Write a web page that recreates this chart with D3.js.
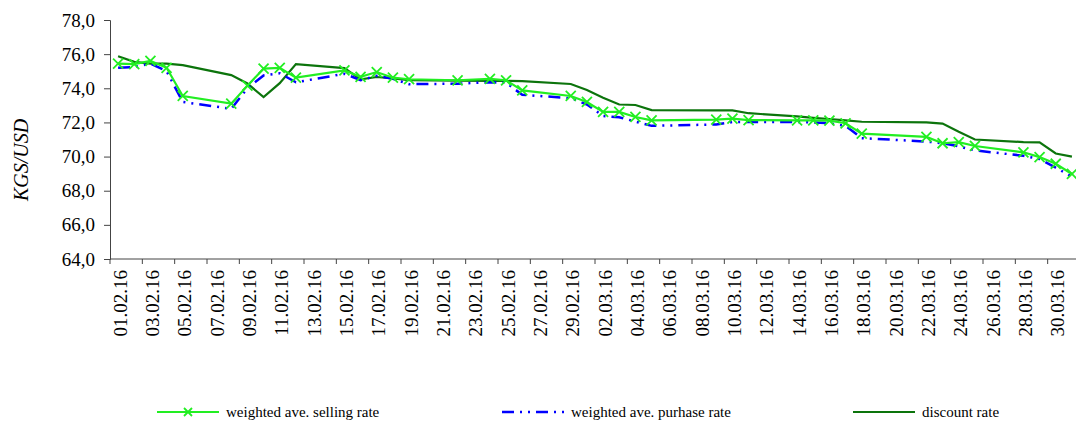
<!DOCTYPE html>
<html>
<head>
<meta charset="utf-8">
<script src="https://cdn.jsdelivr.net/npm/d3@7"></script>
<style>
  html, body { margin: 0; padding: 0; background: #fff; }
  svg { display: block; }
</style>
</head>
<body>
<svg id="chart" width="1076" height="424"></svg>
<script>
// ---- data ----
const categories = ["01.02.16","02.02.16","03.02.16","04.02.16","05.02.16","06.02.16","07.02.16","08.02.16","09.02.16","10.02.16",
  "11.02.16","12.02.16","13.02.16","14.02.16","15.02.16","16.02.16","17.02.16","18.02.16","19.02.16","20.02.16",
  "21.02.16","22.02.16","23.02.16","24.02.16","25.02.16","26.02.16","27.02.16","28.02.16","29.02.16","01.03.16",
  "02.03.16","03.03.16","04.03.16","05.03.16","06.03.16","07.03.16","08.03.16","09.03.16","10.03.16","11.03.16",
  "12.03.16","13.03.16","14.03.16","15.03.16","16.03.16","17.03.16","18.03.16","19.03.16","20.03.16","21.03.16",
  "22.03.16","23.03.16","24.03.16","25.03.16","26.03.16","27.03.16","28.03.16","29.03.16","30.03.16","31.03.16"];

// trading days (dates with quotes)
const tradeDays = ["01.02.16","02.02.16","03.02.16","04.02.16","05.02.16","08.02.16","09.02.16","10.02.16","11.02.16","12.02.16",
  "15.02.16","16.02.16","17.02.16","18.02.16","19.02.16","22.02.16","24.02.16","25.02.16","26.02.16","29.02.16",
  "01.03.16","02.03.16","03.03.16","04.03.16","05.03.16","09.03.16","10.03.16","11.03.16","14.03.16","15.03.16",
  "16.03.16","17.03.16","18.03.16","22.03.16","23.03.16","24.03.16","25.03.16","28.03.16","29.03.16","30.03.16","31.03.16"];

const sellingRate = [75.45,75.42,75.60,75.20,73.55,73.10,74.15,75.15,75.20,74.62,
  75.05,74.67,74.95,74.62,74.53,74.47,74.55,74.47,73.88,73.55,
  73.20,72.62,72.62,72.32,72.12,72.16,72.22,72.14,72.12,72.12,
  72.10,71.95,71.34,71.15,70.78,70.85,70.62,70.25,69.97,69.58,68.98];

const purchaseRate = [75.20,75.25,75.45,75.00,73.20,72.80,74.00,74.75,74.88,74.35,
  74.85,74.48,74.73,74.55,74.24,74.27,74.36,74.32,73.62,73.42,
  73.05,72.38,72.30,72.05,71.80,71.88,72.02,72.02,72.02,72.00,
  71.95,71.80,71.08,70.88,70.78,70.60,70.36,70.05,69.85,69.35,68.82];

const discountRate = [75.88,75.55,75.45,75.45,75.36,74.77,74.28,73.48,74.30,75.42,
  75.18,74.52,74.66,74.58,74.47,74.45,74.43,74.43,74.42,74.25,
  73.90,73.45,73.05,73.02,72.72,72.71,72.71,72.54,72.35,72.27,
  72.20,72.12,72.04,72.00,71.93,71.45,71.00,70.85,70.83,70.18,70.00];

const yTicks = [64,66,68,70,72,74,76,78];
const seriesNames = ["weighted ave. selling rate","weighted ave. purhase rate","discount rate"];

// ---- layout ----
const FONT = "'Liberation Serif'";
const svg = d3.select("#chart");
const pLeft = 110, pRight = 1080, pTop = 20, pBottom = 259;

const x = d3.scaleBand().domain(categories).range([pLeft, pRight]).padding(0);
const y = d3.scaleLinear().domain([64, 78]).range([pBottom, pTop]);
const cx = d => x(d) + x.bandwidth() / 2;

const fmt = v => d3.format(".1f")(v).replace(".", ",");
const axisColor = "#444";

// Y axis
const yAxis = d3.axisLeft(y).tickValues(yTicks).tickSize(6).tickPadding(9).tickFormat(fmt);
const gy = svg.append("g").attr("transform", `translate(${pLeft},0)`).call(yAxis);
gy.select(".domain").attr("stroke", axisColor);
gy.selectAll(".tick line").attr("stroke", axisColor);
gy.selectAll(".tick text").style("font-size", "19px").style("font-family", FONT).attr("fill", "#000");

// X axis: line + tick marks every 2 categories + labels every 2
const gx = svg.append("g").attr("transform", `translate(0,${pBottom})`);
gx.append("line").attr("x1", pLeft).attr("x2", pRight).attr("y1", 0).attr("y2", 0).attr("stroke", axisColor);
const tickCats = categories.filter((d, i) => i % 2 === 0);
gx.selectAll("line.tk").data(tickCats).enter().append("line").attr("class", "tk")
  .attr("x1", d => x(d)).attr("x2", d => x(d)).attr("y1", 0).attr("y2", 5).attr("stroke", axisColor);
gx.selectAll("text.lb").data(tickCats).enter().append("text").attr("class", "lb")
  .attr("transform", d => `translate(${cx(d) + 2},11) rotate(-90)`)
  .attr("text-anchor", "end").attr("dy", "0.35em")
  .style("font-family", FONT).style("font-size", "19px").text(d => d);

// Y title
svg.append("text").attr("transform", `translate(21,160) rotate(-90)`)
  .attr("text-anchor", "middle").attr("dy", "0.35em")
  .style("font-family", FONT).style("font-size", "20px").style("font-style", "italic").text("KGS/USD");

// Series
const colSell = "#22ee22", colBuy = "#0000ff", colDisc = "#0c740c";
const mk = (vals) => tradeDays.map((d, i) => ({d, v: vals[i]}));
const line = d3.line().x(p => cx(p.d)).y(p => y(p.v));

svg.append("path").datum(mk(discountRate)).attr("d", line)
  .attr("fill", "none").attr("stroke", colDisc).attr("stroke-width", 2.2);
svg.append("path").datum(mk(purchaseRate)).attr("d", line)
  .attr("fill", "none").attr("stroke", colBuy).attr("stroke-width", 2.5)
  .attr("stroke-dasharray", "12,6,2,6,2,6");
svg.append("path").datum(mk(sellingRate)).attr("d", line)
  .attr("fill", "none").attr("stroke", colSell).attr("stroke-width", 2.2);

const cross = (g, px, py, s) => {
  g.append("path").attr("d", `M${px - s},${py - s}L${px + s},${py + s}M${px - s},${py + s}L${px + s},${py - s}`)
    .attr("stroke", colSell).attr("stroke-width", 1.8).attr("fill", "none");
};
const gm = svg.append("g");
mk(sellingRate).forEach(p => cross(gm, cx(p.d), y(p.v), 5));

// Legend
const ly = 412;
const lg = svg.append("g");
const legendItems = [
  {name: seriesNames[0], x0: 157, col: colSell, dash: null, marker: true},
  {name: seriesNames[1], x0: 502, col: colBuy, dash: "12,6,2,6,2,6", marker: false},
  {name: seriesNames[2], x0: 853, col: colDisc, dash: null, marker: false}
];
legendItems.forEach(it => {
  const l = lg.append("line").attr("x1", it.x0).attr("x2", it.x0 + 62).attr("y1", ly).attr("y2", ly)
    .attr("stroke", it.col).attr("stroke-width", it.col === colBuy ? 2.5 : 2.2);
  if (it.dash) l.attr("stroke-dasharray", it.dash);
  if (it.marker) cross(lg, it.x0 + 31, ly, 4);
  lg.append("text").attr("x", it.x0 + 69).attr("y", ly).attr("dy", "0.35em")
    .style("font-family", FONT).style("font-size", "15px").text(it.name);
});
</script>
</body>
</html>
